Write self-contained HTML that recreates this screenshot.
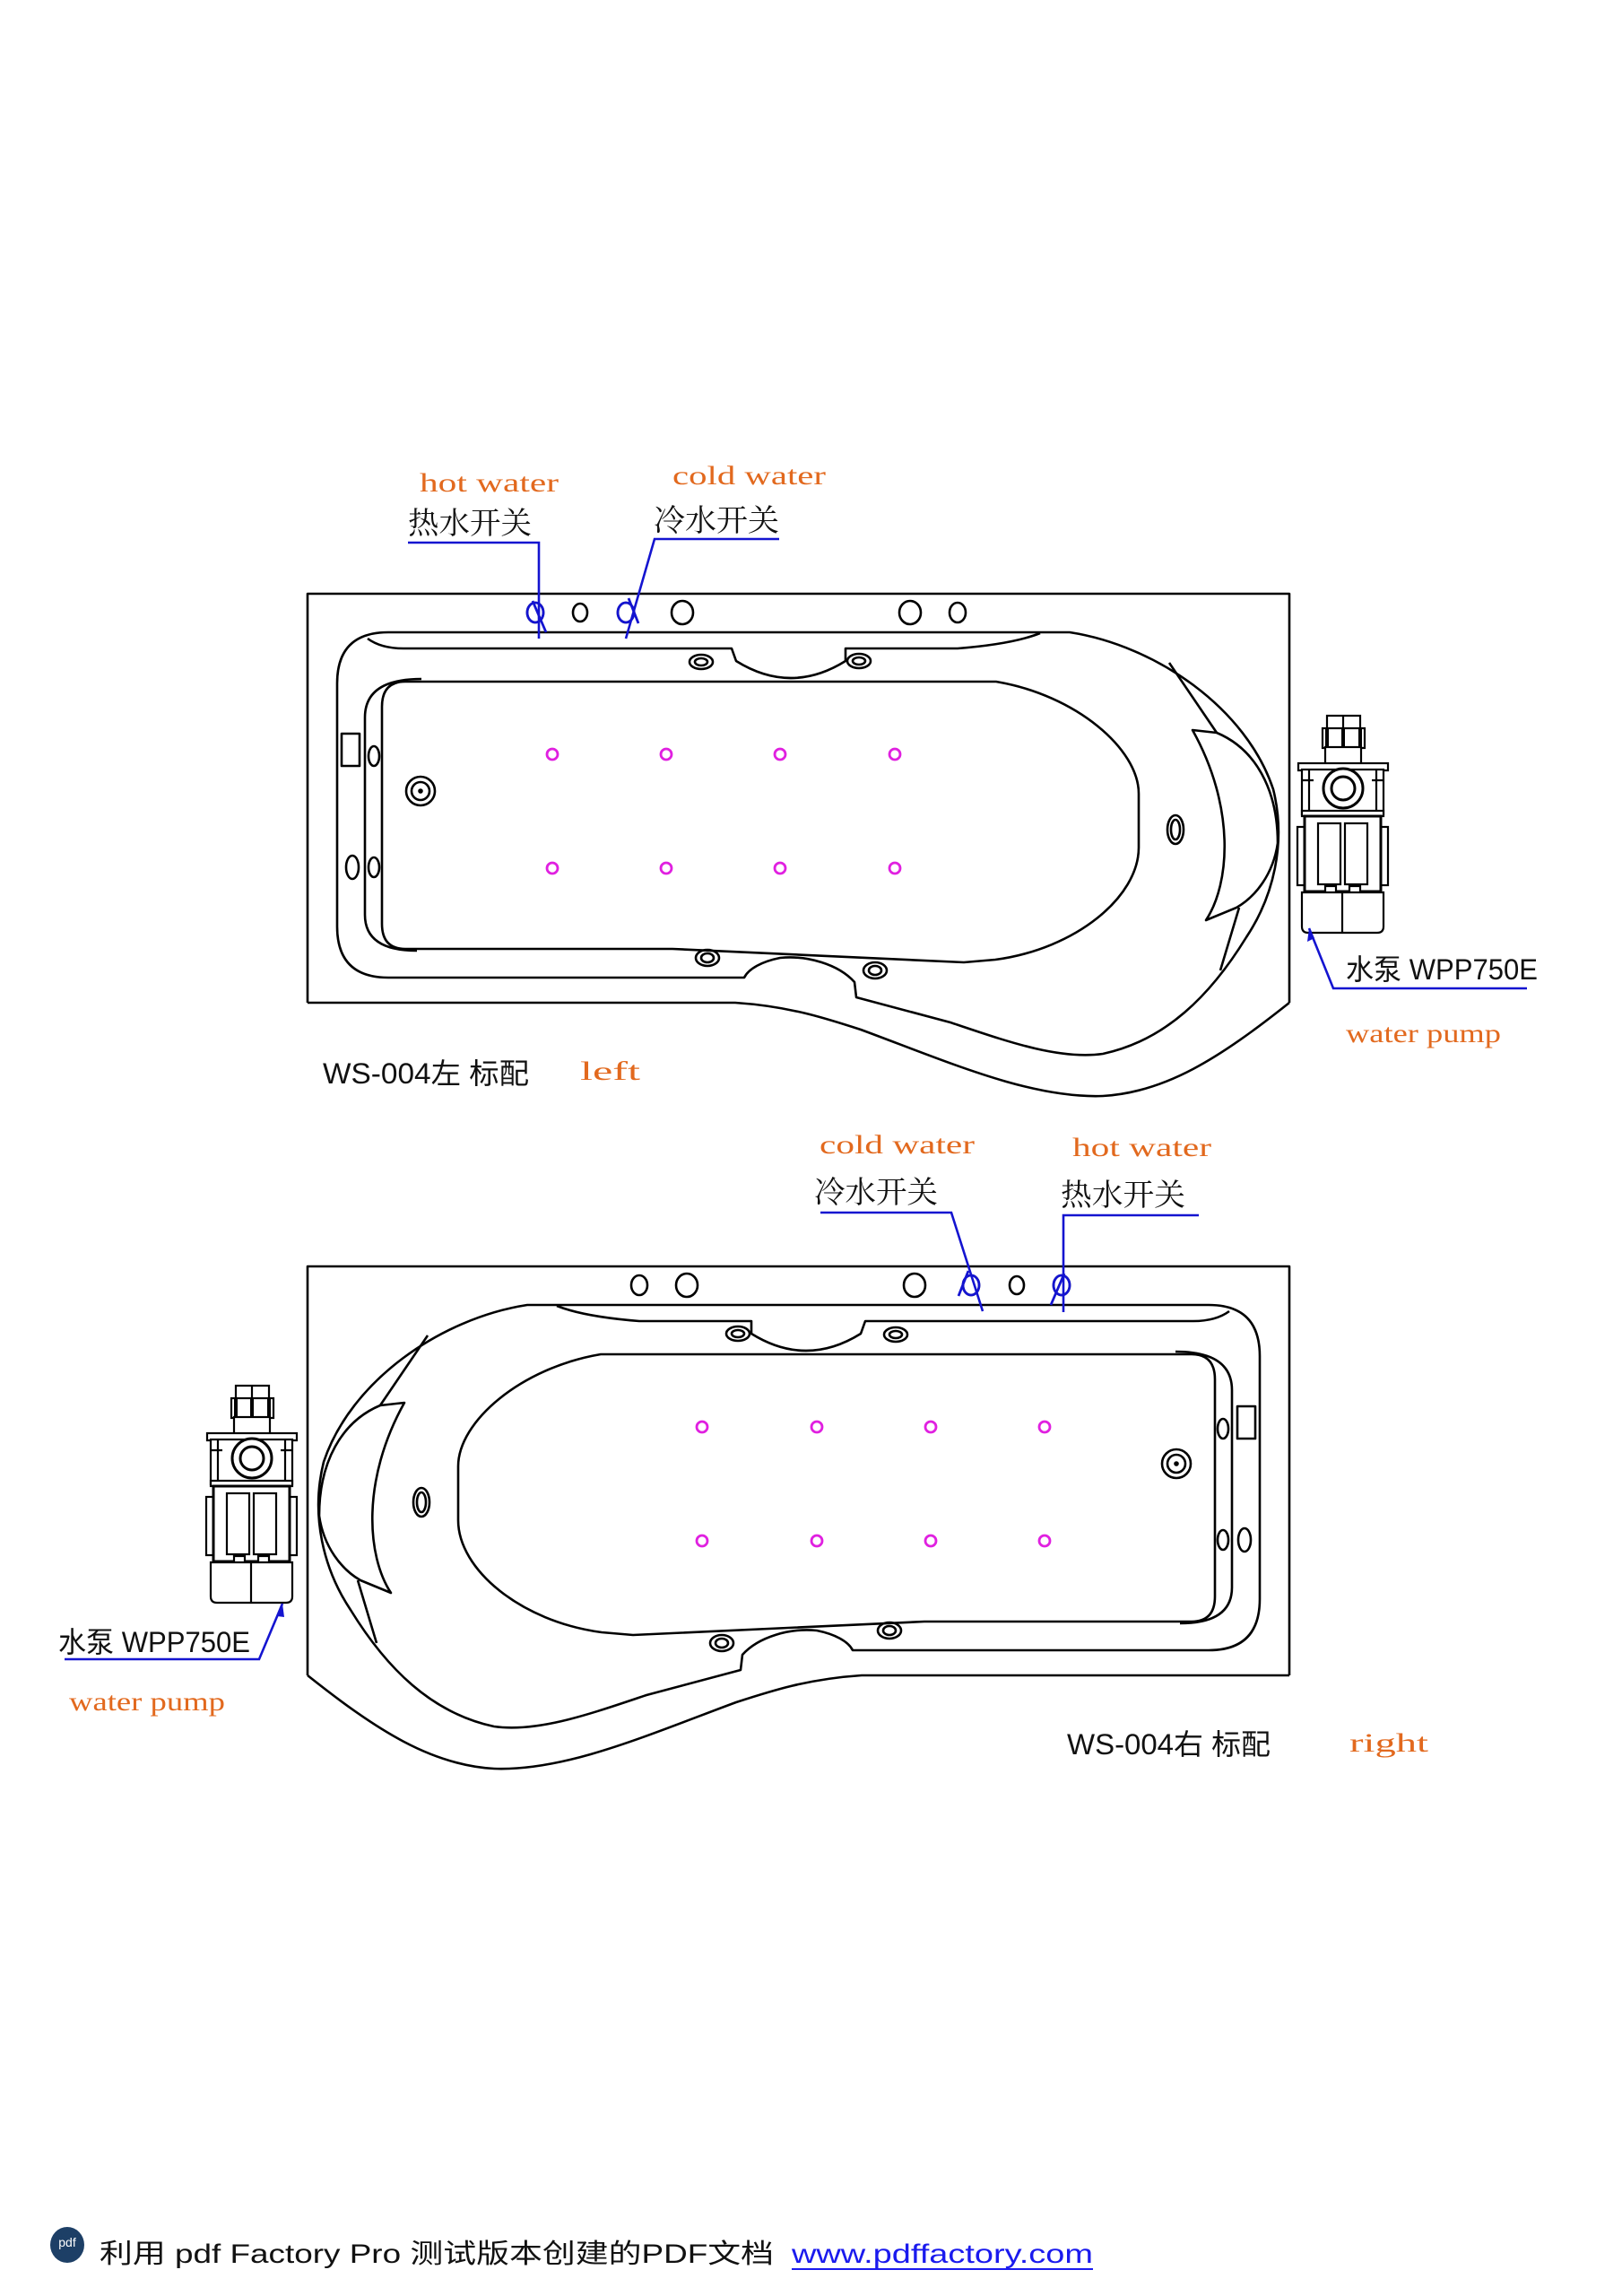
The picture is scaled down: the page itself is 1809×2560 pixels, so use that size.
<!DOCTYPE html>
<html><head><meta charset="utf-8"><style>
html,body{margin:0;padding:0;background:#fff;}
svg{display:block;}
.o{font-family:"Liberation Serif",serif;fill:#e2691e;font-size:30px;}
.c{font-family:"Liberation Serif","Noto Serif CJK SC",serif;fill:#111;font-size:34px;}
.s{font-family:"Liberation Sans","Noto Sans CJK SC",sans-serif;fill:#111;font-size:32px;}
</style></head><body>
<svg width="1809" height="2560" viewBox="0 0 1809 2560" xmlns="http://www.w3.org/2000/svg">
<defs>
<g id="tub" fill="none" stroke="#000" stroke-width="2.6" stroke-linejoin="round">
  <path d="M343,1118 L343,662 L1438,662 L1438,1118"/>
  <path d="M343,1118 L820,1118 C880,1122 920,1135 960,1148 C1060,1185 1150,1225 1230,1222 C1300,1218 1360,1180 1438,1118"/>
  <path d="M433,705 L1193,705 C1290,720 1390,790 1420,880 C1435,940 1420,1000 1390,1045 C1350,1110 1300,1160 1230,1175 C1180,1182 1120,1160 1060,1140 L955,1112 L953,1095 C935,1075 900,1065 870,1068 C850,1072 835,1080 830,1090 L433,1090 Q376,1090 376,1033 L376,762 Q376,705 433,705 Z"/>
  <path d="M410,712 Q425,723 450,723 L816,723 L821,737 Q882,775 943,737 L943,723 L1068,723 Q1130,718 1160,706"/>
  <path d="M452,760 L1111,760 C1200,775 1270,835 1270,885 L1270,945 C1270,1000 1200,1058 1110,1070 L1075,1073 L750,1058 L452,1058 Q426,1058 426,1030 L426,788 Q426,760 452,760 Z"/>
  <path d="M470,757 Q407,757 407,800 L407,1020 Q407,1060 465,1060"/>
  <path d="M1304,739 L1357,817"/>
  <path d="M1330,814 L1357,817 C1400,835 1425,880 1425,940 C1420,975 1400,1000 1379,1012 L1345,1026 C1372,985 1378,900 1330,814 Z"/>
  <path d="M1382,1012 L1361,1082"/>
  <ellipse cx="1311" cy="925" rx="9" ry="16"/><ellipse cx="1311" cy="925" rx="5" ry="11"/>
  <ellipse cx="597" cy="683" rx="9" ry="11"/><ellipse cx="647" cy="683" rx="8" ry="10"/>
  <ellipse cx="698" cy="683" rx="9" ry="11"/><ellipse cx="761" cy="683" rx="12" ry="13"/>
  <ellipse cx="1015" cy="683" rx="12" ry="13"/><ellipse cx="1068" cy="683" rx="9" ry="11"/>
  <ellipse cx="782" cy="738" rx="13" ry="8"/><ellipse cx="782" cy="738" rx="7" ry="4"/>
  <ellipse cx="958" cy="737" rx="13" ry="8"/><ellipse cx="958" cy="737" rx="7" ry="4"/>
  <ellipse cx="789" cy="1068" rx="13" ry="9"/><ellipse cx="789" cy="1068" rx="7" ry="5"/>
  <ellipse cx="976" cy="1082" rx="13" ry="9"/><ellipse cx="976" cy="1082" rx="7" ry="5"/>
  <rect x="381" y="818" width="20" height="36"/>
  <ellipse cx="417" cy="843" rx="6" ry="11"/><ellipse cx="417" cy="967" rx="6" ry="11"/>
  <ellipse cx="393" cy="967" rx="7" ry="13"/>
  <circle cx="469" cy="882" r="16"/><circle cx="469" cy="882" r="10"/><circle cx="469" cy="882" r="1.5" fill="#000"/>
  <g stroke="#e020e0" stroke-width="2.8">
   <circle cx="616" cy="841" r="6"/><circle cx="743" cy="841" r="6"/><circle cx="870" cy="841" r="6"/><circle cx="998" cy="841" r="6"/>
   <circle cx="616" cy="968" r="6"/><circle cx="743" cy="968" r="6"/><circle cx="870" cy="968" r="6"/><circle cx="998" cy="968" r="6"/>
  </g>
  <g stroke="#1414d0" stroke-width="2.8">
   <ellipse cx="597" cy="683" rx="9" ry="11"/><ellipse cx="698" cy="683" rx="9" ry="11"/>
   <path d="M594,670 L609,705 M701,667 L712,695"/>
  </g>
</g>
<g id="pump" fill="#fff" stroke="#000" stroke-width="2.2">
  <rect x="1480" y="798" width="37" height="16"/><path d="M1498,798 V814"/>
  <rect x="1475" y="812" width="47" height="22"/><path d="M1480,812 V834 M1498,812 V834 M1517,812 V834" stroke-width="4"/>
  <rect x="1478" y="833" width="40" height="19"/>
  <rect x="1448" y="851" width="100" height="8"/>
  <rect x="1452" y="858" width="91" height="50"/>
  <path d="M1460,858 V908 M1535,858 V908 M1452,870 H1465 M1530,870 H1543"/>
  <circle cx="1498" cy="879" r="22" stroke-width="3"/><circle cx="1498" cy="879" r="13" stroke-width="3"/>
  <rect x="1452" y="904" width="91" height="6"/>
  <rect x="1447" y="922" width="8" height="65"/><rect x="1540" y="922" width="8" height="65"/>
  <rect x="1455" y="910" width="85" height="84" stroke-width="3"/>
  <rect x="1470" y="918" width="25" height="68"/><rect x="1500" y="918" width="25" height="68"/>
  <rect x="1478" y="988" width="12" height="9"/><rect x="1505" y="988" width="12" height="9"/>
  <path d="M1452,995 H1543 V1033 Q1543,1040 1536,1040 H1459 Q1452,1040 1452,1033 Z M1497,995 V1040"/>
</g>
</defs>

<!-- TOP TUB -->
<use href="#tub"/>
<use href="#pump"/>
<g fill="none" stroke="#1414d0" stroke-width="2.6">
 <path d="M455,605 H601 V712"/>
 <path d="M869,601 H730 L698,712"/>
 <path d="M1703,1102 H1487 L1460,1035"/>
</g>
<path d="M1460,1035 L1458,1050 L1466,1046 Z" fill="#1414d0"/>
<text class="o" x="468" y="548" textLength="155" lengthAdjust="spacingAndGlyphs">hot water</text>
<text class="c" x="455" y="595" textLength="138" lengthAdjust="spacingAndGlyphs">热水开关</text>
<text class="o" x="750" y="540" textLength="171" lengthAdjust="spacingAndGlyphs">cold water</text>
<text class="c" x="729" y="592" textLength="140" lengthAdjust="spacingAndGlyphs">冷水开关</text>
<text class="s" x="1501" y="1092" textLength="214" lengthAdjust="spacingAndGlyphs">水泵 WPP750E</text>
<text class="o" x="1501" y="1162" textLength="173" lengthAdjust="spacingAndGlyphs">water pump</text>
<text class="s" x="360" y="1208" textLength="230" lengthAdjust="spacingAndGlyphs">WS-004左 标配</text>
<text class="o" x="647" y="1204" textLength="67" lengthAdjust="spacingAndGlyphs">left</text>

<!-- BOTTOM TUB -->
<g transform="translate(1781,750) scale(-1,1)"><use href="#tub"/></g>
<g transform="translate(-1217,747)"><use href="#pump"/></g>
<g fill="none" stroke="#1414d0" stroke-width="2.6">
 <path d="M915,1352 H1061 L1096,1462"/>
 <path d="M1337,1355 H1186 V1463"/>
 <path d="M72,1850 H289 L315,1788"/>
</g>
<path d="M315,1788 L309,1802 L317,1803 Z" fill="#1414d0"/>
<text class="o" x="914" y="1286" textLength="173" lengthAdjust="spacingAndGlyphs">cold water</text>
<text class="o" x="1196" y="1289" textLength="155" lengthAdjust="spacingAndGlyphs">hot water</text>
<text class="c" x="908" y="1341" textLength="138" lengthAdjust="spacingAndGlyphs">冷水开关</text>
<text class="c" x="1183" y="1344" textLength="139" lengthAdjust="spacingAndGlyphs">热水开关</text>
<text class="s" x="65" y="1842" textLength="214" lengthAdjust="spacingAndGlyphs">水泵 WPP750E</text>
<text class="o" x="77" y="1907" textLength="174" lengthAdjust="spacingAndGlyphs">water pump</text>
<text class="s" x="1190" y="1956" textLength="227" lengthAdjust="spacingAndGlyphs">WS-004右 标配</text>
<text class="o" x="1505" y="1953" textLength="88" lengthAdjust="spacingAndGlyphs">right</text>

<!-- FOOTER -->
<ellipse cx="75" cy="2503" rx="19" ry="20" fill="#1d3f66"/>
<text x="75" y="2505" font-family="Liberation Sans,sans-serif" font-size="14" fill="#fff" text-anchor="middle">pdf</text>
<text class="s" x="111" y="2523" font-size="30" textLength="752" lengthAdjust="spacingAndGlyphs" style="font-size:30px">利用 pdf Factory Pro 测试版本创建的PDF文档</text>
<text x="883" y="2523" font-family="Liberation Sans,sans-serif" font-size="30" fill="#1a1aee" textLength="336" lengthAdjust="spacingAndGlyphs">www.pdffactory.com</text>
<path d="M883,2530 H1219" stroke="#1a1aee" stroke-width="2"/>
</svg>
</body></html>
